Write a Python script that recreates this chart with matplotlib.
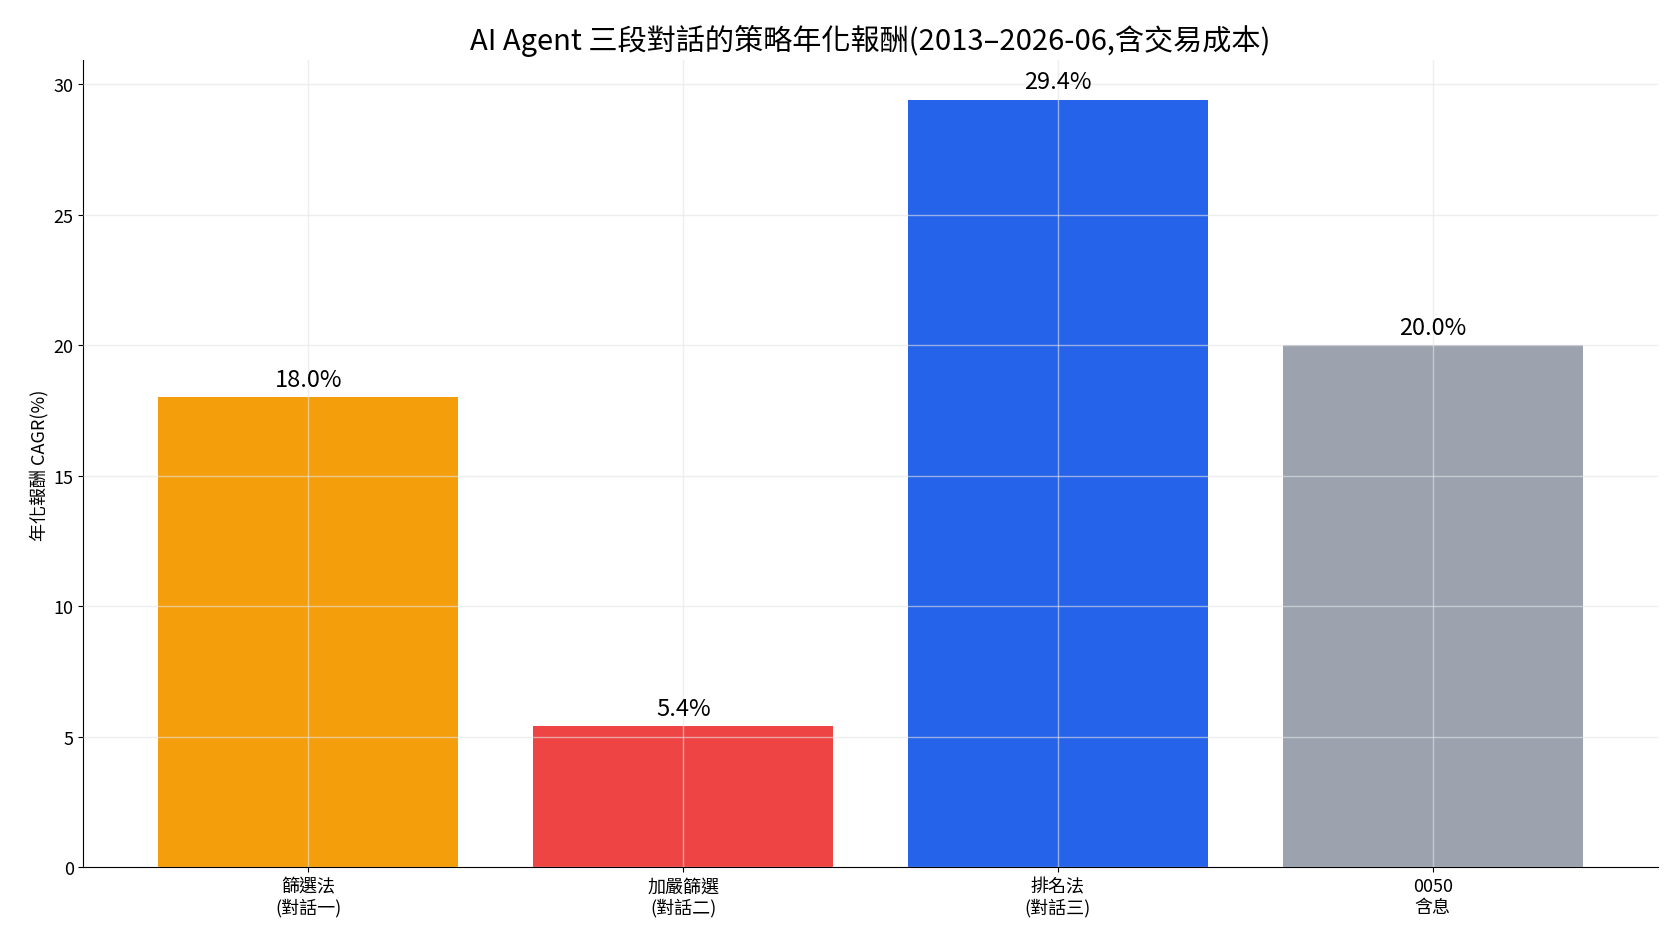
import matplotlib
matplotlib.use("Agg")
import matplotlib.pyplot as plt

plt.rcParams['font.family'] = ['Noto Sans CJK TC', 'DejaVu Sans']

categories = ["篩選法\n(對話一)", "加嚴篩選\n(對話二)", "排名法\n(對話三)", "0050\n含息"]
values = [18.0, 5.4, 29.4, 20.0]
colors = ["#f59e0b", "#ef4444", "#2563eb", "#9ca3af"]

fig = plt.figure(figsize=(16.8, 9.45), dpi=100)
ax = fig.add_axes([0.0497, 0.081, 0.937, 0.854])
x = range(len(categories))
bars = ax.bar(x, values, color=colors, width=0.8, zorder=1)
ax.grid(True, color="#e5e5e5", linewidth=1, alpha=0.6, zorder=2)
ax.set_axisbelow(False)
for xi, v in zip(x, values):
    ax.text(xi, v + 0.25, f"{v:.1f}%", ha="center", va="bottom", fontsize=17, zorder=3)
ax.set_xticks(list(x))
ax.set_xticklabels(categories, fontsize=13)
ax.tick_params(axis='y', labelsize=13)
ax.set_ylim(0, 30.9)
ax.set_xlim(-0.6, 3.6)
ax.set_ylabel("年化報酬 CAGR(%)", fontsize=13)
ax.set_title("AI Agent 三段對話的策略年化報酬(2013–2026-06,含交易成本)", fontsize=21, pad=8)
ax.spines['top'].set_visible(False)
ax.spines['right'].set_visible(False)
fig.savefig("out.png", dpi=100)
